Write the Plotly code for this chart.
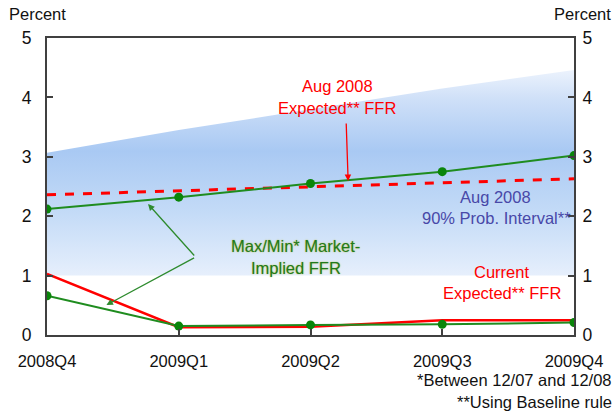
import plotly.graph_objects as go

quarters = ["2008Q4", "2009Q1", "2009Q2", "2009Q3", "2009Q4"]
band_upper = [3.07, 3.45, 3.8, 4.15, 4.46]
band_lower = [1.0, 1.0, 1.0, 1.0, 1.0]
aug_expected = [2.36, 2.43, 2.50, 2.57, 2.63]
max_implied = [2.12, 2.32, 2.55, 2.75, 3.02]
min_implied = [0.66, 0.15, 0.17, 0.18, 0.21]
current_expected = [1.03, 0.13, 0.14, 0.25, 0.25]
y_ticks = [0, 1, 2, 3, 4, 5]

FONT = "Liberation Sans, Arial, sans-serif"
TS = 16.5
xi = list(range(len(quarters)))

fig = go.Figure()

# 90% probability band
fig.add_trace(go.Scatter(x=xi, y=band_lower, mode="lines", line=dict(width=0),
                         hoverinfo="skip", showlegend=False))
fig.add_trace(go.Scatter(
    x=xi, y=band_upper, mode="lines", line=dict(width=0), fill="tonexty",
    fillgradient=dict(type="vertical", start=1.0, stop=4.5,
                      colorscale=[[0, "#e6effc"], [0.3, "#c4dbf7"], [0.6, "#a9c9f3"],
                                  [0.85, "#cfe0f8"], [1, "#eef4fd"]]),
    hoverinfo="skip", showlegend=False))

# Aug 2008 expected FFR (dashed)
fig.add_trace(go.Scatter(x=xi, y=aug_expected, mode="lines",
                         line=dict(color="#ff0000", width=3, dash="dash"),
                         showlegend=False))
# current expected
fig.add_trace(go.Scatter(x=xi, y=current_expected, mode="lines",
                         line=dict(color="#ff0000", width=2.5), showlegend=False))
# max / min market implied
for ys in (max_implied, min_implied):
    fig.add_trace(go.Scatter(x=xi, y=ys, mode="lines+markers",
                             line=dict(color="#1f8c1f", width=2),
                             marker=dict(color="#0a850a", size=9),
                             showlegend=False))

# invisible trace for right axis
fig.add_trace(go.Scatter(x=[0], y=[0], yaxis="y2", mode="markers",
                         marker=dict(opacity=0), hoverinfo="skip", showlegend=False))

axis_common = dict(showgrid=False, zeroline=False, showline=True, linecolor="#404040",
                   linewidth=2, ticks="inside", ticklen=6, tickwidth=1.5, tickcolor="#404040")

fig.update_layout(
    width=615, height=415,
    margin=dict(l=47, r=36, t=38, b=80),
    plot_bgcolor="white", paper_bgcolor="white",
    font=dict(family=FONT),
    xaxis=dict(range=[0, 4], tickvals=xi, ticktext=quarters, mirror=True,
               ticklabelstandoff=10,
               tickfont=dict(family=FONT, size=TS, color="#111111"), **axis_common),
    yaxis=dict(range=[0, 5], tickvals=y_ticks, mirror=True, ticklabelstandoff=10,
               tickfont=dict(family=FONT, size=17.5, color="#111111"), **axis_common),
    yaxis2=dict(range=[0, 5], tickvals=y_ticks, overlaying="y", side="right",
                ticklabelstandoff=3,
                tickfont=dict(family=FONT, size=17.5, color="#111111"), **axis_common),
)

ann = []
def txt(x, y, text, color, size=TS, xanchor="center", xref="x", yref="y", shadow=None):
    f = dict(family=FONT, size=size, color=color)
    if shadow:
        f["shadow"] = shadow
    ann.append(dict(x=x, y=y, xref=xref, yref=yref, text=text, showarrow=False,
                    xanchor=xanchor, yanchor="middle", font=f))

def px_x(p):
    return (p - 47) / 133.0

def px_y(p):
    return (335 - p) / 59.4

txt(-0.018, 1.081, "Percent", "#111111", TS, "center", "paper", "paper")
txt(1.016, 1.081, "Percent", "#111111", TS, "center", "paper", "paper")

txt(px_x(340), px_y(86), "Aug 2008", "#ff0000")
txt(px_x(340), px_y(108), "Expected** FFR", "#ff0000")
txt(px_x(500), px_y(197), "Aug 2008", "#4848a8")
txt(px_x(501), px_y(218), "90% Prob. Interval**", "#4848a8")
GS = "0px 0px 1.5px #b8b830"
txt(px_x(298), px_y(246), "Max/Min* Market-", "#1e7a1e", shadow=GS)
txt(px_x(298), px_y(268), "Implied FFR", "#1e7a1e", shadow=GS)
txt(px_x(506), px_y(272), "Current", "#ff0000")
txt(px_x(506), px_y(293), "Expected** FFR", "#ff0000")

# footnotes
txt(1.075, -0.152, "*Between 12/07 and 12/08", "#111111", TS, "right", "paper", "paper")
txt(1.075, -0.226, "**Using Baseline rule", "#111111", TS, "right", "paper", "paper")

# arrows
def arrow(hx, hy, tx, ty, color):
    ann.append(dict(x=px_x(hx), y=px_y(hy), ax=px_x(tx), ay=px_y(ty), xref="x", yref="y",
                    axref="x", ayref="y", text="", showarrow=True, arrowhead=2,
                    arrowsize=1, arrowwidth=1.3, arrowcolor=color))

arrow(351, 181, 349, 122, "#ff0000")
arrow(149, 204, 197, 257, "#2e8b2e")
arrow(107, 305, 197, 257, "#2e8b2e")

fig.update_layout(annotations=ann)
fig.write_html("out.html", config={"displayModeBar": False},
               post_script="document.body.style.margin='0';document.body.style.overflow='hidden';")
